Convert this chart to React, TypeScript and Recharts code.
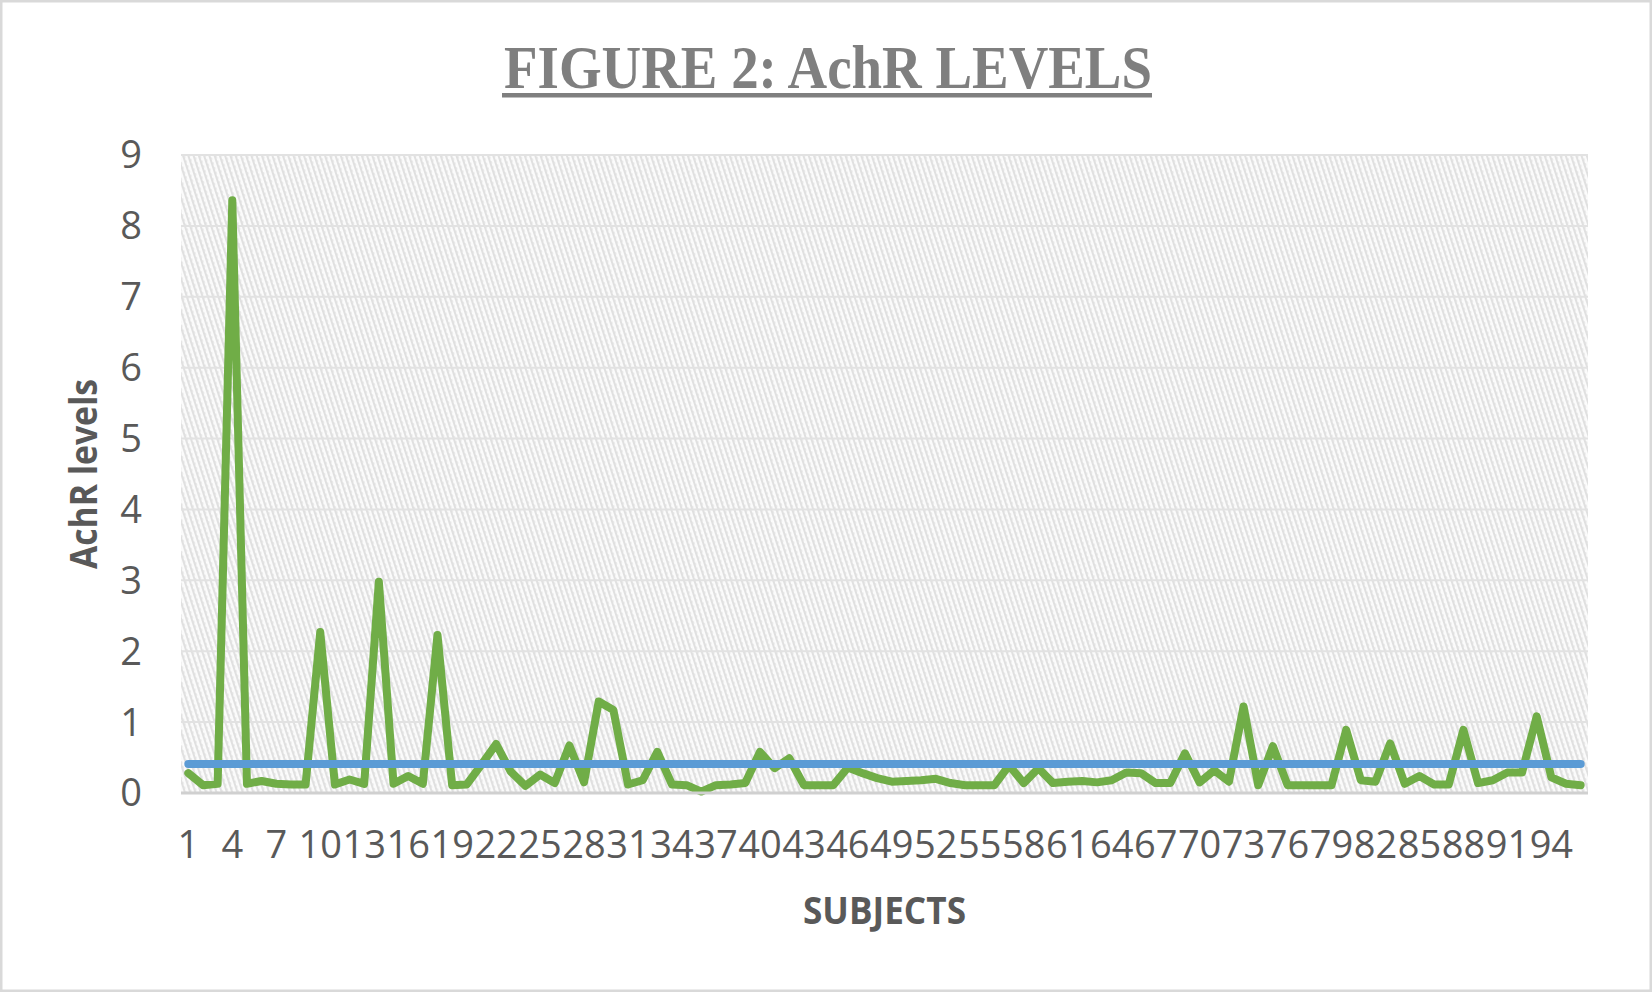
import React from "react";
import { LineChart, Line, XAxis, YAxis, CartesianGrid } from "recharts";

const subjects: number[] = [
  1, 2, 3, 4, 5, 6, 7, 8, 9, 10, 11, 12, 13, 14, 15, 16, 17, 18, 19, 20,
  21, 22, 23, 24, 25, 26, 27, 28, 29, 30, 31, 32, 33, 34, 35, 36, 37, 38, 39, 40,
  41, 42, 43, 44, 45, 46, 47, 48, 49, 50, 51, 52, 53, 54, 55, 56, 57, 58, 59, 60,
  61, 62, 63, 64, 65, 66, 67, 68, 69, 70, 71, 72, 73, 74, 75, 76, 77, 78, 79, 80,
  81, 82, 83, 84, 85, 86, 87, 88, 89, 90, 91, 92, 93, 94, 95, 96,
];

const achrLevels: number[] = [
  0.28, 0.11, 0.13, 8.36, 0.13, 0.17, 0.13, 0.12, 0.12, 2.27,
  0.12, 0.19, 0.13, 2.98, 0.13, 0.24, 0.13, 2.23, 0.11, 0.12,
  0.4, 0.69, 0.3, 0.1, 0.26, 0.14, 0.67, 0.15, 1.29, 1.17,
  0.12, 0.18, 0.58, 0.12, 0.11, 0.02, 0.11, 0.12, 0.14, 0.58,
  0.35, 0.49, 0.11, 0.11, 0.11, 0.36, 0.28, 0.21, 0.16, 0.17,
  0.18, 0.2, 0.14, 0.11, 0.11, 0.11, 0.39, 0.14, 0.35, 0.14,
  0.16, 0.17, 0.15, 0.18, 0.29, 0.28, 0.14, 0.14, 0.56, 0.15,
  0.32, 0.16, 1.22, 0.11, 0.66, 0.11, 0.11, 0.11, 0.11, 0.89,
  0.18, 0.16, 0.7, 0.13, 0.24, 0.12, 0.12, 0.89, 0.14, 0.18,
  0.29, 0.29, 1.08, 0.22, 0.13, 0.11,
];

const thresholdLevel = 0.41;

const yTicks: number[] = [0, 1, 2, 3, 4, 5, 6, 7, 8, 9];

const chartTitle = "FIGURE 2: AchR LEVELS";
const xAxisTitle = "SUBJECTS";
const yAxisTitle = "AchR levels";

const rows = subjects.map((s, i) => ({
  subject: String(s),
  achr: achrLevels[i],
  threshold: thresholdLevel,
}));

const W = 1652;
const H = 992;
const plotLeft = 181;
const plotRight = 1588;
const plotTop = 155;
const plotBottom = 793;
const yAxisWidth = 100;
const xAxisHeight = 60;
const halfBand = (plotRight - plotLeft) / subjects.length / 2;

const tickStyle = { fontFamily: "'Open Sans', sans-serif", fontSize: 38, fill: "#595959" };

export default function App() {
  return (
    <div style={{ position: "absolute", top: 0, left: 0, width: W, height: H, background: "#ffffff" }}>
      <svg width={0} height={0} style={{ position: "absolute" }}>
        <defs>
          <pattern id="hatch" width="5" height="5" patternUnits="userSpaceOnUse" patternTransform="rotate(-18)">
            <rect width="5" height="5" fill="#fbfbfb" />
            <rect width="2" height="5" fill="#e0e0e0" />
            <rect x="2" y="0" width="1" height="2.5" fill="#ebebeb" />
          </pattern>
        </defs>
      </svg>
      <LineChart
        width={W}
        height={H}
        data={rows}
        margin={{
          top: plotTop,
          right: W - plotRight,
          bottom: H - plotBottom - xAxisHeight,
          left: plotLeft - yAxisWidth,
        }}
      >
        <CartesianGrid vertical={false} stroke="#e2e2e2" strokeWidth={2} fill="url(#hatch)" fillOpacity={1} />
        <XAxis
          dataKey="subject"
          type="category"
          interval={2}
          height={xAxisHeight}
          padding={{ left: halfBand, right: halfBand }}
          tickLine={false}
          axisLine={{ stroke: "#d0d0d0", strokeWidth: 3 }}
          tickMargin={32}
          tick={tickStyle}
        />
        <YAxis
          type="number"
          domain={[0, 9]}
          ticks={yTicks}
          width={yAxisWidth}
          axisLine={false}
          tickLine={false}
          tickMargin={33}
          tick={tickStyle}
        />
        <Line
          dataKey="achr"
          type="linear"
          stroke="#70ad47"
          strokeWidth={8}
          strokeLinecap="round"
          strokeLinejoin="round"
          dot={false}
          activeDot={false}
          isAnimationActive={false}
        />
        <Line
          dataKey="threshold"
          type="linear"
          stroke="#5b9bd5"
          strokeWidth={8}
          strokeLinecap="round"
          strokeLinejoin="round"
          dot={false}
          activeDot={false}
          isAnimationActive={false}
        />
      </LineChart>
      <svg
        width={W}
        height={H}
        style={{ position: "absolute", top: 0, left: 0, pointerEvents: "none" }}
      >
        <rect x={1} y={1} width={W - 2} height={H - 2} fill="none" stroke="#d9d9d9" strokeWidth={3} />
        <text
          x={828}
          y={88}
          textAnchor="middle"
          fontFamily="'Liberation Serif', 'Times New Roman', serif"
          fontWeight="bold"
          fontSize={62}
          fill="#7f7f7f"
          textLength={648}
          lengthAdjust="spacingAndGlyphs"
        >
          {chartTitle}
        </text>
        <rect x={502} y={93} width={650} height={4.5} fill="#7f7f7f" />
        <text
          x={(plotLeft + plotRight) / 2}
          y={924}
          textAnchor="middle"
          fontFamily="'Open Sans', sans-serif"
          fontWeight="bold"
          fontSize={38}
          fill="#595959"
          textLength={163}
          lengthAdjust="spacingAndGlyphs"
        >
          {xAxisTitle}
        </text>
        <text
          x={0}
          y={0}
          transform={`translate(97, ${(plotTop + plotBottom) / 2}) rotate(-90)`}
          textAnchor="middle"
          fontFamily="'Open Sans', sans-serif"
          fontWeight="bold"
          fontSize={38}
          fill="#595959"
          textLength={190}
          lengthAdjust="spacingAndGlyphs"
        >
          {yAxisTitle}
        </text>
      </svg>
    </div>
  );
}
